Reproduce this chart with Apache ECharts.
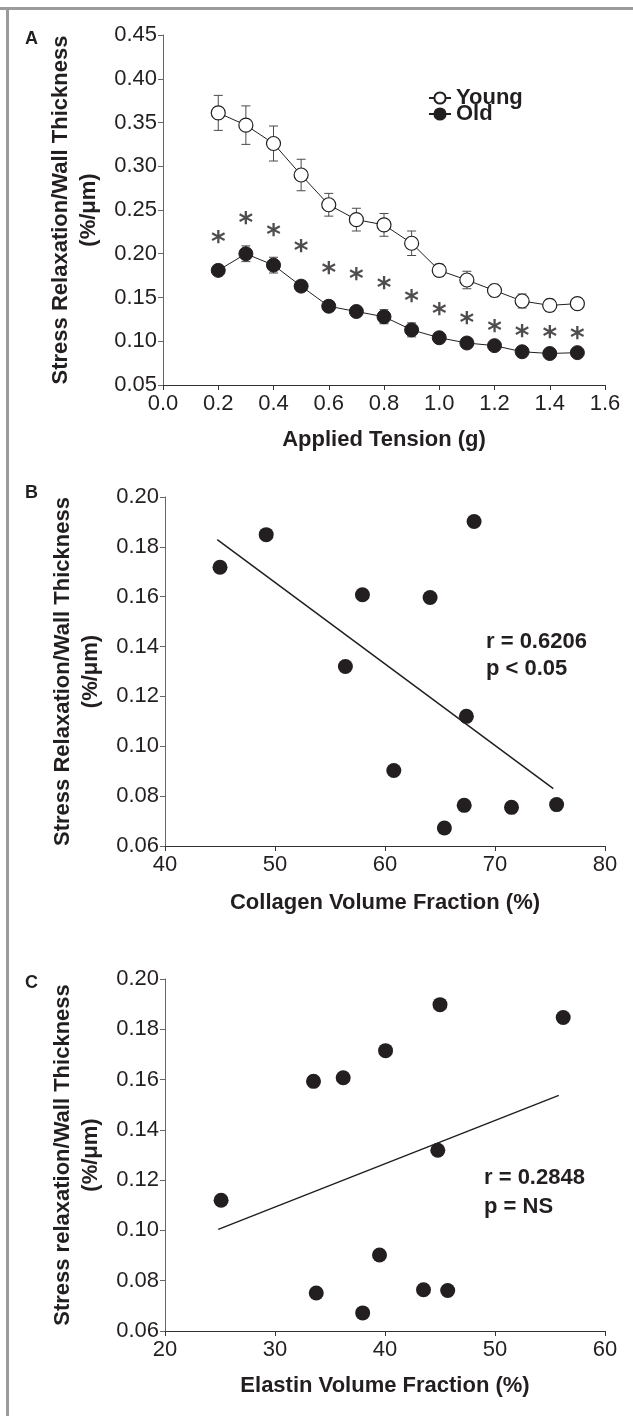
<!DOCTYPE html>
<html>
<head>
<meta charset="utf-8">
<script src="https://cdn.jsdelivr.net/npm/echarts@6/dist/echarts.min.js"></script>
<style>
  html, body { margin: 0; padding: 0; background: #fff; }
  #main { width: 633px; height: 1416px; }
</style>
</head>
<body>
<div id="main"></div>
<script>
// Panel A: stress relaxation vs applied tension
var tension = [0.2, 0.3, 0.4, 0.5, 0.6, 0.7, 0.8, 0.9, 1.0, 1.1, 1.2, 1.3, 1.4, 1.5];
var youngMean = [0.361, 0.347, 0.326, 0.290, 0.256, 0.239, 0.233, 0.212, 0.181, 0.170, 0.158, 0.146, 0.141, 0.143];
var youngErr = [0.020, 0.022, 0.020, 0.018, 0.013, 0.013, 0.013, 0.014, 0.007, 0.010, 0.007, 0.008, 0.007, 0.004];
var oldMean = [0.181, 0.200, 0.187, 0.163, 0.140, 0.134, 0.128, 0.113, 0.104, 0.098, 0.095, 0.088, 0.086, 0.087];
var oldErr = [0.006, 0.009, 0.009, 0.006, 0.006, 0.005, 0.008, 0.008, 0.005, 0.005, 0.005, 0.004, 0.004, 0.004];
var starY = [0.217, 0.239, 0.225, 0.207, 0.182, 0.175, 0.165, 0.150, 0.135, 0.125, 0.116, 0.110, 0.109, 0.108];

// Panel B: collagen
var collagenX = [45.0, 49.2, 56.4, 57.95, 60.8, 64.1, 65.4, 67.2, 67.4, 68.1, 71.5, 75.6];
var collagenY = [0.1718, 0.1849, 0.1320, 0.1608, 0.0903, 0.1597, 0.0672, 0.0763, 0.1120, 0.1902, 0.0755, 0.0766];
var collagenFit = [[44.75, 0.1829], [75.3, 0.0830]];

// Panel C: elastin
var elastinX = [25.1, 33.5, 33.75, 36.2, 37.97, 39.5, 40.05, 43.5, 44.8, 45.0, 45.7, 56.2];
var elastinY = [0.1120, 0.1593, 0.0751, 0.1607, 0.0672, 0.0902, 0.1715, 0.0764, 0.1319, 0.1898, 0.0761, 0.1847];
var elastinFit = [[24.84, 0.1004], [55.8, 0.1537]];

var ink = '#231f20';
var font = 'Liberation Sans, Arial, sans-serif';

function pairs(xs, ys) {
    var out = [];
    for (var i = 0; i < xs.length; i++) out.push([xs[i], ys[i]]);
    return out;
}
function errData(xs, m, e) {
    var out = [];
    for (var i = 0; i < xs.length; i++) out.push([xs[i], m[i] - e[i], m[i] + e[i]]);
    return out;
}
function renderErr(params, api) {
    var x = api.value(0);
    var top = api.coord([x, api.value(2)]);
    var bot = api.coord([x, api.value(1)]);
    var w = 4.5;
    var st = { stroke: '#4a4a4a', lineWidth: 1 };
    return {
        type: 'group',
        children: [
            { type: 'line', shape: { x1: top[0], y1: top[1], x2: bot[0], y2: bot[1] }, style: st },
            { type: 'line', shape: { x1: top[0] - w, y1: top[1], x2: top[0] + w, y2: top[1] }, style: st },
            { type: 'line', shape: { x1: bot[0] - w, y1: bot[1], x2: bot[0] + w, y2: bot[1] }, style: st }
        ]
    };
}

function xAx(idx, name, min, max, interval, dec, gap) {
    return {
        gridIndex: idx, type: 'value', min: min, max: max, interval: interval,
        name: name, nameLocation: 'middle', nameGap: gap,
        nameTextStyle: { fontFamily: font, fontWeight: 'bold', fontSize: 22, color: ink },
        axisLine: { show: true, lineStyle: { color: '#333', width: 1 } },
        axisTick: { show: true, length: 5, lineStyle: { color: '#333' } },
        axisLabel: { fontFamily: font, fontSize: 22, color: ink, margin: 8,
            formatter: function (v) { return v.toFixed(dec); } },
        splitLine: { show: false }
    };
}
function yAx(idx, name, min, max, interval) {
    return {
        gridIndex: idx, type: 'value', min: min, max: max, interval: interval,
        name: name, nameLocation: 'middle', nameGap: 58, nameRotate: 90,
        nameTextStyle: { fontFamily: font, fontWeight: 'bold', fontSize: 22, color: ink, lineHeight: 28 },
        axisLine: { show: true, lineStyle: { color: '#666', width: 1 } },
        axisTick: { show: true, length: 5, lineStyle: { color: '#666' } },
        axisLabel: { fontFamily: font, fontSize: 22, color: ink, margin: 6,
            formatter: function (v) { return v.toFixed(2); } },
        splitLine: { show: false }
    };
}

var myChart = echarts.init(document.getElementById('main'));
var option = {
    backgroundColor: '#fff',
    animation: false,
    grid: [
        { left: 163, right: 28, top: 35, height: 350 },
        { left: 165, right: 28, top: 497, height: 349 },
        { left: 165, right: 28, top: 979, height: 352 }
    ],
    xAxis: [
        xAx(0, 'Applied Tension (g)', 0, 1.6, 0.2, 1, 44),
        xAx(1, 'Collagen Volume Fraction (%)', 40, 80, 10, 0, 46),
        xAx(2, 'Elastin Volume Fraction (%)', 20, 60, 10, 0, 44)
    ],
    yAxis: [
        yAx(0, 'Stress Relaxation/Wall Thickness\n(%/μm)', 0.05, 0.45, 0.05),
        yAx(1, 'Stress Relaxation/Wall Thickness\n(%/μm)', 0.06, 0.20, 0.02),
        yAx(2, 'Stress relaxation/Wall Thickness\n(%/μm)', 0.06, 0.20, 0.02)
    ],
    legend: [
        { data: ['Young'], left: 423, top: 82, itemWidth: 22, itemHeight: 14, itemGap: 8,
          textStyle: { fontFamily: font, fontWeight: 'bold', fontSize: 22, color: ink } },
        { data: ['Old'], left: 423, top: 98, itemWidth: 22, itemHeight: 14, itemGap: 8,
          textStyle: { fontFamily: font, fontWeight: 'bold', fontSize: 22, color: ink } }
    ],
    graphic: [
        { type: 'rect', shape: { x: 0, y: 7, width: 633, height: 3 }, style: { fill: '#9b9b9b' } },
        { type: 'rect', shape: { x: 6, y: 7, width: 3, height: 1409 }, style: { fill: '#9b9b9b' } },
        { type: 'text', left: 25, top: 30, style: { text: 'A', font: 'bold 18px ' + font, fill: ink } },
        { type: 'text', left: 25, top: 484, style: { text: 'B', font: 'bold 18px ' + font, fill: ink } },
        { type: 'text', left: 25, top: 974, style: { text: 'C', font: 'bold 18px ' + font, fill: ink } },
        { type: 'text', left: 486, top: 628, style: { text: 'r = 0.6206\np < 0.05', font: 'bold 22px ' + font, fill: ink, lineHeight: 27 } },
        { type: 'text', left: 484, top: 1163, style: { text: 'r = 0.2848\np = NS', font: 'bold 22px ' + font, fill: ink, lineHeight: 29 } }
    ],
    series: [
        { name: 'YoungErr', type: 'custom', xAxisIndex: 0, yAxisIndex: 0, z: 1,
          renderItem: renderErr, data: errData(tension, youngMean, youngErr) },
        { name: 'OldErr', type: 'custom', xAxisIndex: 0, yAxisIndex: 0, z: 1,
          renderItem: renderErr, data: errData(tension, oldMean, oldErr) },
        { name: 'Young', type: 'line', xAxisIndex: 0, yAxisIndex: 0, z: 3,
          data: pairs(tension, youngMean), symbol: 'circle', symbolSize: 14,
          lineStyle: { color: ink, width: 1 },
          itemStyle: { color: '#fff', borderColor: ink, borderWidth: 1.2 } },
        { name: 'Old', type: 'line', xAxisIndex: 0, yAxisIndex: 0, z: 3,
          data: pairs(tension, oldMean), symbol: 'circle', symbolSize: 14,
          lineStyle: { color: ink, width: 1 },
          itemStyle: { color: ink, borderColor: ink, borderWidth: 1 } },
        { name: 'sig', type: 'scatter', xAxisIndex: 0, yAxisIndex: 0, z: 4,
          data: pairs(tension, starY), symbolSize: 2, itemStyle: { color: 'rgba(0,0,0,0)' },
          label: { show: true, position: 'inside', formatter: '*', offset: [0, 5],
                   fontFamily: 'DejaVu Sans', fontWeight: 'bold', fontSize: 28, color: ink } },
        { name: 'Collagen', type: 'scatter', xAxisIndex: 1, yAxisIndex: 1,
          data: pairs(collagenX, collagenY), symbolSize: 15, itemStyle: { color: ink, opacity: 1 } },
        { name: 'CollagenFit', type: 'line', xAxisIndex: 1, yAxisIndex: 1, data: collagenFit,
          symbol: 'none', lineStyle: { color: ink, width: 1.5 } },
        { name: 'Elastin', type: 'scatter', xAxisIndex: 2, yAxisIndex: 2,
          data: pairs(elastinX, elastinY), symbolSize: 15, itemStyle: { color: ink, opacity: 1 } },
        { name: 'ElastinFit', type: 'line', xAxisIndex: 2, yAxisIndex: 2, data: elastinFit,
          symbol: 'none', lineStyle: { color: ink, width: 1.5 } }
    ]
};
myChart.setOption(option);
</script>
</body>
</html>
